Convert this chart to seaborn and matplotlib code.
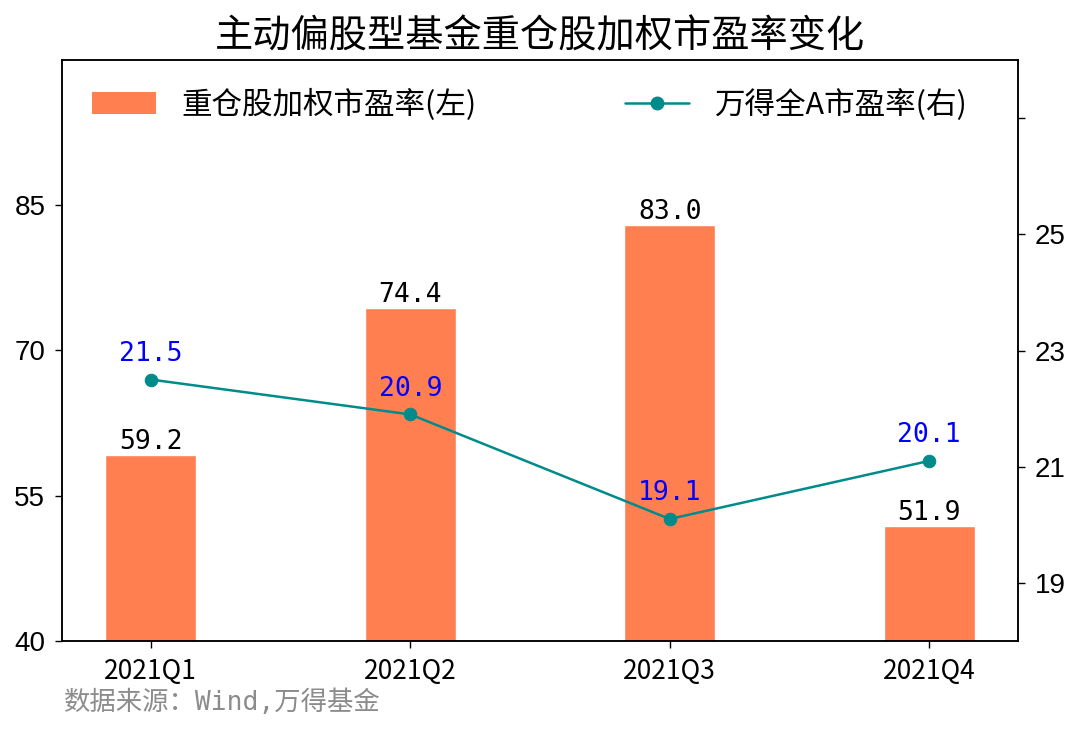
import numpy as np
import pandas as pd
import matplotlib
matplotlib.use("Agg")
import matplotlib.pyplot as plt
import seaborn as sns
from matplotlib.patches import Patch
from matplotlib.lines import Line2D

# data
quarters = ["2021Q1", "2021Q2", "2021Q3", "2021Q4"]
heavy_pe = [59.2, 74.4, 83.0, 51.9]
wind_a_pe = [21.5, 20.9, 19.1, 20.1]
left_ticks = [40, 55, 70, 85]
right_ticks = [18, 20, 22, 24, 26]
right_ticklabels = ["19", "21", "23", "25", ""]

sns.set_style("ticks")
plt.rcParams['font.family'] = ['Noto Sans CJK SC', 'DejaVu Sans']
plt.rcParams['axes.unicode_minus'] = False
plt.rcParams['text.color'] = 'black'

df = pd.DataFrame({"quarter": quarters, "heavy": heavy_pe, "wind": wind_a_pe})
df["pos"] = np.arange(len(df))

fig = plt.figure(figsize=(10.8, 7.32), dpi=100)
ax = fig.add_axes([62 / 1080, 91 / 732, 956 / 1080, 581 / 732])

bar_color = "#FF7F50"
line_color = "#008B8B"

sns.barplot(data=df, x="quarter", y="heavy", color=bar_color, width=0.35,
            saturation=1, ax=ax)
ax.set_xlim(-0.3425, 3.3425)
ax.set_ylim(40, 100)
ax.set_yticks(left_ticks)
ax.set_xlabel("")
ax.set_ylabel("")

for i, v in enumerate(heavy_pe):
    ax.text(i, v, f"{v:.1f}", ha="center", va="bottom", fontsize=19,
            family=["DejaVu Sans Mono"], color="black")

ax2 = ax.twinx()
sns.lineplot(x=df["pos"], y=df["wind"], color=line_color, marker="o",
             markersize=9, markeredgecolor=line_color, linewidth=1.8, ax=ax2)
ax2.set_ylim(17, 27)
ax2.set_yticks(right_ticks)
ax2.set_yticklabels(right_ticklabels)
ax2.set_ylabel("")
ax2.set_xlim(-0.3425, 3.3425)

for i, v in enumerate(wind_a_pe):
    ax2.annotate(f"{v:.1f}", (i, v), xytext=(0, 9), textcoords="offset points",
                 ha="center", va="bottom", fontsize=19,
                 family=["DejaVu Sans Mono"], color="blue")

for a in (ax, ax2):
    for s in a.spines.values():
        s.set_visible(True)
        s.set_color("black")
        s.set_linewidth(1.1)
    a.tick_params(direction="out", length=5, width=1, colors="black", pad=7)

ax.tick_params(axis="x", labelsize=19)
for lab in ax.get_yticklabels() + ax2.get_yticklabels():
    lab.set_fontfamily("Liberation Sans")
    lab.set_fontsize(20)

handles = [Patch(facecolor=bar_color, edgecolor="none"),
           Line2D([0], [0], color=line_color, marker="o", markersize=9, linewidth=1.8)]
labels = ["重仓股加权市盈率(左)", "万得全A市盈率(右)"]
ax2.legend(handles, labels, loc="center left", bbox_to_anchor=(0.031, 0.923),
           ncol=2, frameon=False, fontsize=22, handlelength=2.1, handleheight=0.75,
           handletextpad=0.85, columnspacing=4.85, borderaxespad=0, borderpad=0)

fig.text(0.5, 1 - 37 / 732, "主动偏股型基金重仓股加权市盈率变化", fontsize=27.5,
         ha="center", va="center", color="black")
fig.text(64 / 1080, 1 - 703 / 732, "数据来源：Wind,万得基金", fontsize=19,
         color="#8c8c8c", va="center", ha="left",
         family=["DejaVu Sans Mono", "Noto Sans CJK SC"])

fig.savefig("out.png", dpi=100)
